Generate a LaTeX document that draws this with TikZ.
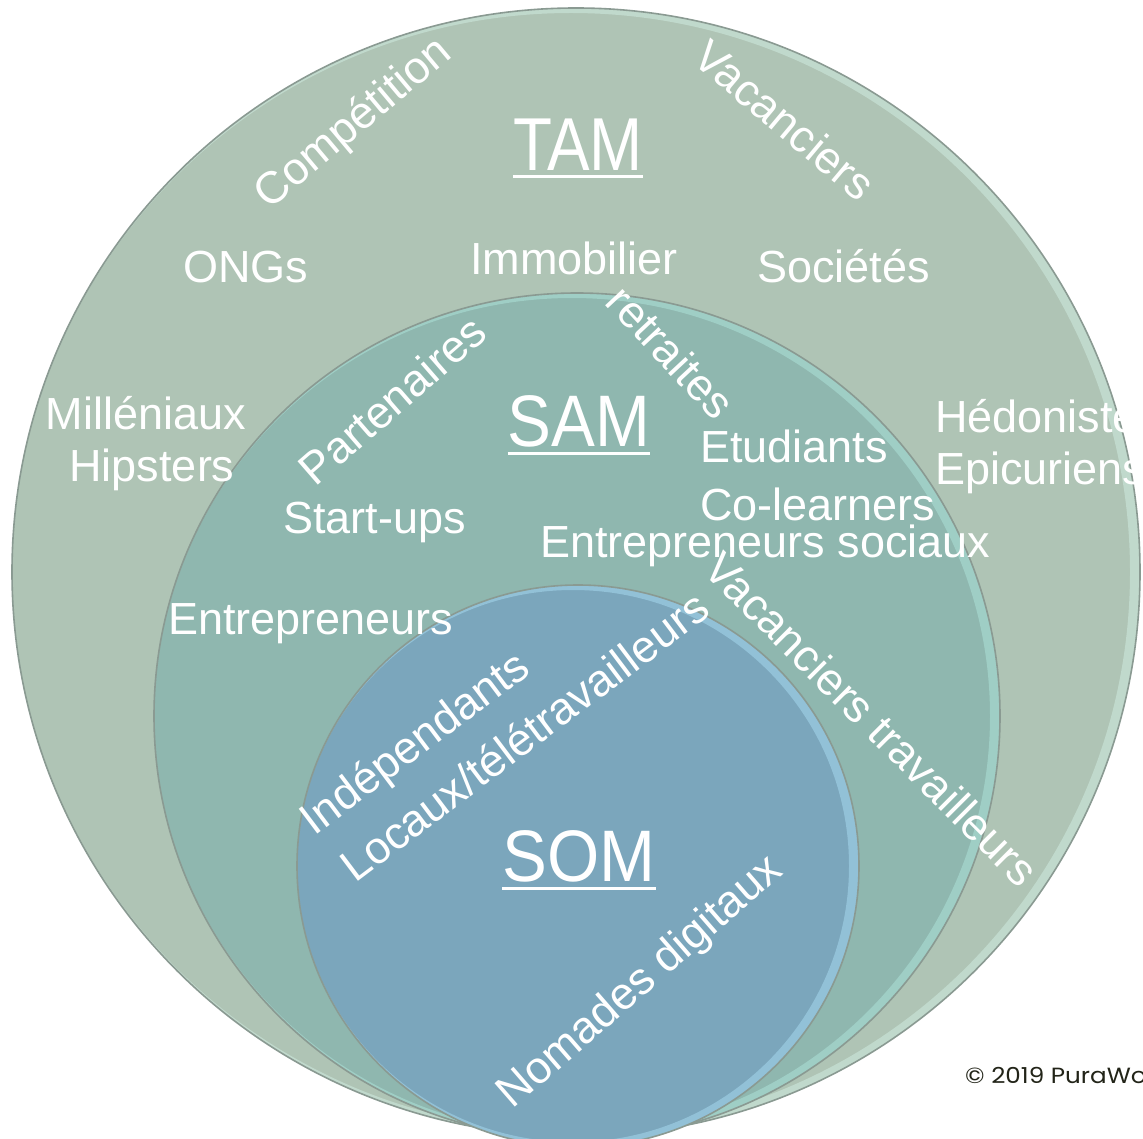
\documentclass[tikz,border=0pt]{standalone}
\usepackage{fontspec}
\setmainfont{Liberation Sans}
\newfontfamily\copyfont{Poppins}
\definecolor{tamfill}{HTML}{AFC4B5}
\definecolor{samfill}{HTML}{8FB7AF}
\definecolor{somfill}{HTML}{7BA6BC}
\definecolor{tamlight}{HTML}{C8E2D6}
\definecolor{samlight}{HTML}{A6D8CF}
\definecolor{somlight}{HTML}{9CCDE3}
\definecolor{rimdark}{HTML}{8A9A92}
\definecolor{copytext}{HTML}{222418}
\begin{document}
\begin{tikzpicture}[x=1pt,y=-1pt,
  lbl/.style={text=white,font=\fontsize{45}{52}\selectfont,inner sep=0pt},
  ttl/.style={text=white,inner sep=0pt},
  uline/.style={white,line width=3pt},
  rim/.style={rimdark,line width=1.6pt}]
\clip (0,0) rectangle (1143,1139);
\fill[white] (0,0) rectangle (1143,1139);

% TAM circle
\coordinate (tamc) at (576,572);
\fill[tamfill] (tamc) circle[radius=564pt];
\begin{scope}
  \clip (tamc) circle[radius=564pt];
  \draw[tamlight,line width=10pt,opacity=0.7] ([xshift=-5pt]tamc) circle[radius=564pt];
\end{scope}
\draw[rim] (tamc) circle[radius=564pt];

% SAM circle
\coordinate (samc) at (577,716);
\fill[samfill] (samc) circle[radius=423pt];
\begin{scope}
  \clip (samc) circle[radius=423pt];
  \draw[samlight,line width=10pt,opacity=0.7] ([xshift=-5pt]samc) circle[radius=423pt];
\end{scope}
\draw[rim] (samc) circle[radius=423pt];

% SOM circle
\coordinate (somc) at (578,866);
\fill[somfill] (somc) circle[radius=281pt];
\begin{scope}
  \clip (somc) circle[radius=281pt];
  \draw[somlight,line width=10pt,opacity=0.7] ([xshift=-5pt]somc) circle[radius=281pt];
\end{scope}
\draw[rim] (somc) circle[radius=281pt];

% titles
\node[ttl,font=\fontsize{75}{80}\selectfont] (tam) at (578,145) {\scalebox{0.85}[1]{TAM}};
\draw[uline] ([yshift=-6pt]tam.south west) -- ([yshift=-6pt]tam.south east);
\node[ttl,font=\fontsize{73}{80}\selectfont] (sam) at (579,421) {\scalebox{0.9}[1]{SAM}};
\draw[uline] ([yshift=-6pt]sam.south west) -- ([yshift=-6pt]sam.south east);
\node[ttl,font=\fontsize{73}{80}\selectfont] (som) at (579,856) {\scalebox{0.92}[1]{SOM}};
\draw[uline] ([yshift=-6pt]som.south west) -- ([yshift=-6pt]som.south east);

% horizontal labels
\node[lbl,anchor=base west] (ong) at (183,283) {ONGs};
\node[lbl,anchor=base] (immo) at (574,275) {Immobilier};
\node[lbl,anchor=base west] (soc) at (757,283) {Sociétés};
\node[lbl,anchor=base] (mill) at (146,429) {Milléniaux};
\node[lbl,anchor=base] (hips) at (152,481) {Hipsters};
\node[lbl,anchor=base west] (hedo) at (935,432) {Hédonistes};
\node[lbl,anchor=base west] (epic) at (935,484) {Epicuriens};
\node[lbl,anchor=base west] (start) at (283,533) {Start-ups};
\node[lbl,anchor=base west] (entr) at (168,634) {Entrepreneurs};
\node[lbl,anchor=base west] (etud) at (700,462) {Etudiants};
\node[lbl,anchor=base west] (cole) at (700,520) {Co-learners};
\node[lbl,anchor=base west] (esoc) at (540,557) {Entrepreneurs sociaux};

% rotated labels
\node[lbl,rotate=40] (comp) at (354,124) {Compétition};
\node[lbl,rotate=-40] (vac) at (785,120) {Vacanciers};
\node[lbl,rotate=41] (part) at (392,400) {Partenaires};
\node[lbl,rotate=-47] (retr) at (671,352) {retraites};
\node[lbl,rotate=37] (inde) at (416,745) {Indépendants};
\node[lbl,rotate=37] (loca) at (524,736) {Locaux/télétravailleurs};
\node[lbl,rotate=-45] (vtra) at (872,719) {Vacanciers travailleurs};
\node[lbl,rotate=41] (noma) at (641,983) {Nomades digitaux};

% copyright
\node[anchor=base west,inner sep=0pt,text=copytext,font=\copyfont\fontsize{22}{26}\selectfont] (copy) at (965,1083) {\scalebox{1.12}[1]{© 2019 PuraWork}};
\end{tikzpicture}
\end{document}
